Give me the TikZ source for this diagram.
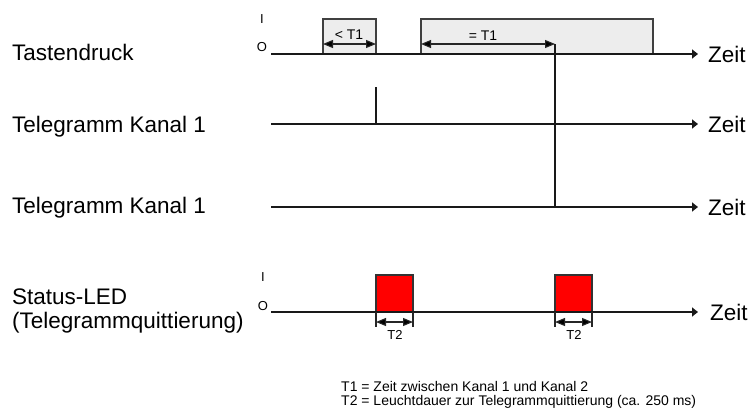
\documentclass[tikz,border=0pt]{standalone}
\usepackage{fontspec}
\setmainfont{Liberation Sans}
\usetikzlibrary{arrows.meta}
\begin{document}
\begin{tikzpicture}[x=1pt,y=-1pt,
  sig/.style={line width=1.7pt,draw=black!90},
  timearrow/.style={sig,-{Triangle[length=6pt,width=9pt]}},
  lbl/.style={anchor=base west,inner sep=0pt,font=\fontsize{22.5}{26}\selectfont},
  zeit/.style={anchor=west,inner sep=0pt,font=\fontsize{22.5}{26}\selectfont},
  io/.style={inner sep=0pt,font=\fontsize{13}{15}\selectfont},
  keybox/.style={draw=black!75,fill=black!7,line width=1.4pt},
  ledbox/.style={draw=black!80,fill=red,line width=1.4pt},
  dimarrow/.style={line width=1.1pt,draw=black!85,{Triangle[length=10pt,width=8pt,fill=black]}-{Triangle[length=10pt,width=8pt,fill=black]}},
  extline/.style={line width=1.1pt,draw=black!85},
  small/.style={inner sep=0pt,font=\fontsize{14}{16}\selectfont},
  note/.style={anchor=west,inner sep=0pt,font=\fontsize{14}{16}\selectfont},
  pulse/.style={line width=1.4pt,draw=black!90},
]
\useasboundingbox (0,0) rectangle (752,410);

% ---- left labels
\node[lbl] (lTaste) at (12,60) {Tastendruck};
\node[lbl] (lTel1) at (12,132) {Telegramm Kanal 1};
\node[lbl] (lTel2) at (12,213) {Telegramm Kanal 1};
\node[lbl] (lLed1) at (12,304) {Status-LED};
\node[lbl] (lLed2) at (12,328) {(Telegrammquittierung)};

% ---- I / O markers
\node[io] (iTaste) at (262,19) {I};
\node[io] (oTaste) at (262,47) {O};
\node[io] (iLed) at (263,277) {I};
\node[io] (oLed) at (263,306) {O};

% ---- key press boxes
\draw[keybox] (323,54) rectangle (376,19);
\draw[keybox] (421,54) rectangle (653,19);

% ---- signal lines
\coordinate (s1) at (271,54);   \coordinate (e1) at (698,54);
\coordinate (s2) at (271,124);  \coordinate (e2) at (698,124);
\coordinate (s3) at (271,207);  \coordinate (e3) at (698,207);
\coordinate (s4) at (271,312);  \coordinate (e4) at (698,312);
\draw[timearrow] (s1) -- (e1);
\draw[timearrow] (s2) -- (e2);
\draw[timearrow] (s3) -- (e3);
\node[zeit] (z1) at (708,54) {Zeit};
\node[zeit] (z2) at (708,124) {Zeit};
\node[zeit] (z3) at (708,207) {Zeit};
\node[zeit] (z4) at (710,312) {Zeit};

% ---- dimension arrows T1
\coordinate (d1a) at (323,44); \coordinate (d1b) at (376,44);
\coordinate (d2a) at (421,44); \coordinate (d2b) at (555,44);
\draw[dimarrow] (d1a) -- (d1b);
\draw[dimarrow] (d2a) -- (d2b);
\node[small] (t1a) at (349,35) {< T1};
\node[small] (t1b) at (483,36) {= T1};

% ---- telegram pulses
\coordinate (p1t) at (376,87); \coordinate (p1b) at (376,124);
\draw[pulse] (p1t) -- (p1b);
\coordinate (p2b) at (555,207);
\draw[pulse] (d2b) -- (p2b);

% ---- LED boxes
\draw[ledbox] (376,312) rectangle (413,275);
\draw[ledbox] (555,312) rectangle (592,275);
\draw[timearrow] (s4) -- (e4);

% ---- T2 dimensions
\coordinate (x1a) at (376,312); \coordinate (x1b) at (376,327);
\coordinate (x2a) at (413,312); \coordinate (x2b) at (413,327);
\coordinate (x3a) at (555,312); \coordinate (x3b) at (555,327);
\coordinate (x4a) at (592,312); \coordinate (x4b) at (592,327);
\draw[extline] (x1a) -- (x1b);
\draw[extline] (x2a) -- (x2b);
\draw[extline] (x3a) -- (x3b);
\draw[extline] (x4a) -- (x4b);
\coordinate (t2aL) at (376,322); \coordinate (t2aR) at (413,322);
\coordinate (t2bL) at (555,322); \coordinate (t2bR) at (592,322);
\draw[dimarrow] (t2aL) -- (t2aR);
\draw[dimarrow] (t2bL) -- (t2bR);
\node[small,font=\fontsize{13}{15}\selectfont] (t2a) at (395,335) {T2};
\node[small,font=\fontsize{13}{15}\selectfont] (t2b) at (574,335) {T2};

% ---- notes
\node[note] (n1) at (341,386) {T1 = Zeit zwischen Kanal 1 und Kanal 2};
\node[note] (n2) at (341,402) {T2 = Leuchtdauer zur Telegrammquittierung (ca. 250 ms)};
\end{tikzpicture}
\end{document}
